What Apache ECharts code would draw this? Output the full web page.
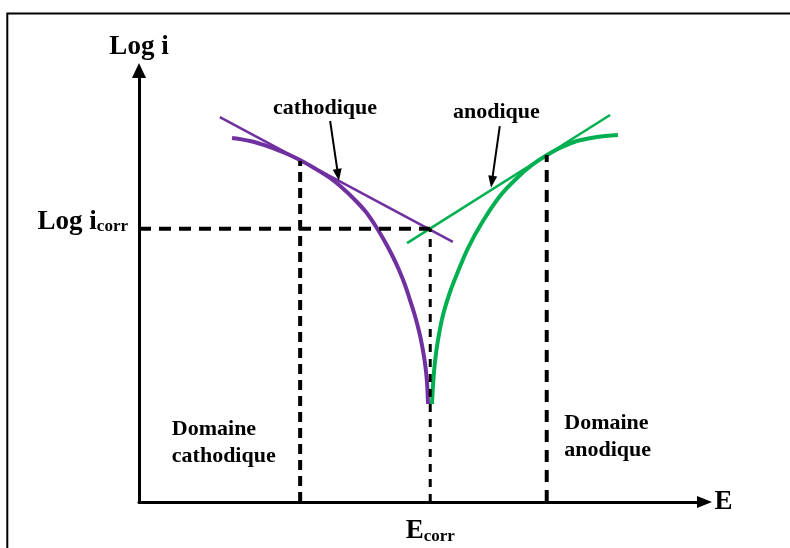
<!DOCTYPE html>
<html>
<head>
<meta charset="utf-8">
<script src="https://cdn.jsdelivr.net/npm/echarts@6/dist/echarts.min.js"></script>
<style>
  html, body { margin: 0; padding: 0; background: #fff; }
  #chart { width: 790px; height: 548px; }
</style>
</head>
<body>
<div id="chart"></div>
<script>
// Schematic Tafel diagram: log of current density vs. electrode potential.
// Both axes use arbitrary units (0..100); no numeric ticks are drawn.

// Corrosion point
const E_CORR = 51.5;
const LOG_I_CORR = 63.3;

// Limits of the Tafel (linear) domains
const E_CATHODIC_LIMIT = 28.5;
const LOGI_CATHODIC_LIMIT = 79.0;
const E_ANODIC_LIMIT = 72.1;
const LOGI_ANODIC_LIMIT = 80.4;

// Polarisation branches [E, log i]
const cathodicBranch = [
  [16.45, 84.36], [19.63, 83.66], [23.17, 82.27], [25.82, 80.88], [28.47, 79.26],
  [31.12, 77.29], [33.78, 75.09], [36.07, 72.65], [38.20, 69.99], [40.14, 67.21],
  [41.73, 64.19], [43.32, 60.72], [44.74, 57.24], [45.98, 53.77], [47.04, 50.29],
  [47.92, 46.81], [48.81, 43.11], [49.51, 39.63], [50.04, 36.38], [50.57, 32.21],
  [50.93, 27.81], [51.11, 22.71]
];
const anodicBranch = [
  [51.81, 22.71], [51.99, 27.11], [52.34, 32.44], [52.87, 37.54], [53.76, 43.34],
  [55.00, 48.67], [56.23, 52.84], [58.18, 58.86], [60.83, 65.12], [63.84, 70.92],
  [66.84, 75.09], [69.50, 78.10], [72.15, 80.42], [74.80, 82.27], [77.45, 83.66],
  [80.99, 84.59], [84.70, 85.05]
];

// Tafel straight lines extrapolated to the corrosion point
const cathodicTafel = [[14.3, 89.2], [55.5, 60.3]];
const anodicTafel = [[47.4, 60.0], [83.3, 89.7]];

// Annotation arrows (from label to Tafel line)
const cathodicPointer = [[33.8, 88.3], [35.2, 75.8]];
const anodicPointer = [[63.8, 87.1], [62.4, 74.2]];

// Texts
const axisNames = { x: 'E', y: 'Log i' };
const branchNames = ['cathodique', 'anodique'];
const branchNameAnchors = [[32.9, 91.2], [63.2, 90.2]];
const domainNames = ['Domaine\ncathodique', 'Domaine\nanodique'];
const domainAnchors = [[5.8, 13.8], [75.2, 15.0]];

const PURPLE = '#7030A0';
const GREEN = '#00B050';
const FONT = "'Liberation Serif', 'Times New Roman', serif";

const dashed = (pts, width, dash) => ({
  type: 'line', data: pts, symbol: 'none', silent: true, z: 4,
  lineStyle: { color: '#000', width: width, type: dash, cap: 'butt' }
});

const textLabel = (extra) => Object.assign({
  show: true, formatter: '{b}',
  fontFamily: FONT, fontWeight: 'bold', fontSize: 22, color: '#000',
  textBorderWidth: 0, opacity: 1
}, extra);

const chart = echarts.init(document.getElementById('chart'), null, { renderer: 'canvas' });

chart.setOption({
  animation: false,
  backgroundColor: '#fff',
  graphic: [{
    type: 'rect',
    shape: { x: 7.3, y: 13.5, width: 900, height: 700 },
    style: { fill: 'none', stroke: '#000', lineWidth: 2 },
    silent: true
  }],
  grid: { left: 139, right: 85.5, top: 70.5, bottom: 46 },
  xAxis: {
    type: 'value', min: 0, max: 100,
    axisLine: {
      show: true,
      lineStyle: { color: '#000', width: 3 },
      symbol: ['none', 'triangle'],
      symbolSize: [12, 15]
    },
    axisTick: { show: false },
    splitLine: { show: false },
    axisLabel: {
      customValues: [E_CORR],
      margin: 16,
      formatter: () => '{m|E}{s|corr}',
      rich: {
        m: { fontFamily: FONT, fontWeight: 'bold', fontSize: 27, color: '#000' },
        s: { fontFamily: FONT, fontWeight: 'bold', fontSize: 17, color: '#000', verticalAlign: 'bottom' }
      }
    },
    name: axisNames.x,
    nameLocation: 'end',
    nameGap: 10,
    nameTextStyle: { fontFamily: FONT, fontWeight: 'bold', fontSize: 27, color: '#000' }
  },
  yAxis: {
    type: 'value', min: 0, max: 100,
    axisLine: {
      show: true,
      lineStyle: { color: '#000', width: 3 },
      symbol: ['none', 'triangle'],
      symbolSize: [14, 15]
    },
    axisTick: { show: false },
    splitLine: { show: false },
    axisLabel: {
      customValues: [LOG_I_CORR],
      margin: 11,
      padding: [0, 0, 14, 0],
      formatter: () => '{m|Log i}{s|corr}',
      rich: {
        m: { fontFamily: FONT, fontWeight: 'bold', fontSize: 27, color: '#000' },
        s: { fontFamily: FONT, fontWeight: 'bold', fontSize: 17, color: '#000', verticalAlign: 'bottom' }
      }
    },
    name: axisNames.y,
    nameLocation: 'end',
    nameGap: 10,
    nameTextStyle: { fontFamily: FONT, fontWeight: 'bold', fontSize: 27, color: '#000' }
  },
  series: [
    // guide lines
    dashed([[0, LOG_I_CORR], [E_CORR, LOG_I_CORR]], 4, [12, 8]),
    dashed([[E_CATHODIC_LIMIT, 0], [E_CATHODIC_LIMIT, LOGI_CATHODIC_LIMIT]], 4, [10, 6]),
    dashed([[E_CORR, 0], [E_CORR, LOG_I_CORR]], 3, [8, 7]),
    dashed([[E_ANODIC_LIMIT, 0], [E_ANODIC_LIMIT, LOGI_ANODIC_LIMIT]], 4, [12, 8]),
    // polarisation branches
    {
      type: 'line', data: cathodicBranch, smooth: 0.3, symbol: 'none', silent: true, z: 3,
      lineStyle: { color: PURPLE, width: 4 }
    },
    {
      type: 'line', data: anodicBranch, smooth: 0.3, symbol: 'none', silent: true, z: 3,
      lineStyle: { color: GREEN, width: 4 }
    },
    // Tafel lines
    {
      type: 'line', data: cathodicTafel, symbol: 'none', silent: true, z: 3,
      lineStyle: { color: PURPLE, width: 2.5 }
    },
    {
      type: 'line', data: anodicTafel, symbol: 'none', silent: true, z: 3,
      lineStyle: { color: GREEN, width: 2.5 }
    },
    // pointers
    {
      type: 'line', data: [], silent: true,
      markLine: {
        silent: true, animation: false,
        symbol: ['none', 'triangle'], symbolSize: [9, 12],
        label: { show: false },
        lineStyle: { color: '#000', width: 2, type: 'solid' },
        data: [
          [{ coord: cathodicPointer[0] }, { coord: cathodicPointer[1] }],
          [{ coord: anodicPointer[0] }, { coord: anodicPointer[1] }]
        ]
      }
    },
    // branch names
    {
      type: 'scatter', symbolSize: 0, silent: true, z: 5,
      itemStyle: { opacity: 1 },
      data: branchNames.map((n, i) => ({ name: n, value: branchNameAnchors[i] })),
      label: textLabel({ position: 'inside' })
    },
    // domain names
    {
      type: 'scatter', symbolSize: 0, silent: true, z: 5,
      itemStyle: { opacity: 1 },
      data: domainNames.map((n, i) => ({ name: n, value: domainAnchors[i] })),
      label: textLabel({ position: 'right', distance: 0, align: 'left', lineHeight: 27 })
    }
  ]
});
</script>
</body>
</html>
